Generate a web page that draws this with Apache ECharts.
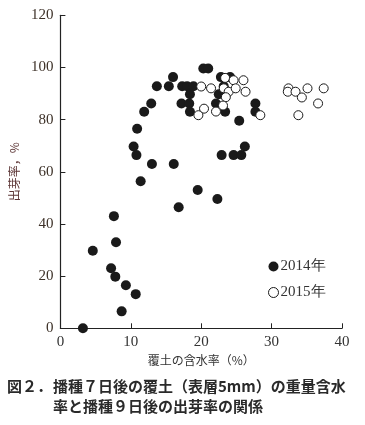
<!DOCTYPE html>
<html>
<head>
<meta charset="utf-8">
<script src="https://cdn.jsdelivr.net/npm/echarts@6/dist/echarts.min.js"></script>
<style>html,body{margin:0;padding:0;background:#fff}#c{width:365px;height:425px}</style>
</head>
<body>
<div id="c"></div>
<script>
const xTicks = [0, 10, 20, 30, 40];
const yTicks = [0, 20, 40, 60, 80, 100, 120];
const seriesNames = ['2014年', '2015年'];
const data2014 = [
  [3.2,0],[4.6,29.7],[7.6,43],[7.9,33],[7.2,23],[7.8,19.8],[9.3,16.5],[10.7,13.1],[8.7,6.5],
  [11.4,56.4],[13.0,63],[16.1,63],[16.8,46.4],[19.5,53],[22.3,49.6],
  [10.4,69.7],[10.8,66.4],[10.9,76.5],[11.9,83],[12.9,86.2],[13.7,92.8],[15.4,92.8],[16.0,96.3],
  [17.3,92.8],[18.0,92.8],[18.9,92.8],[18.4,89.7],[17.2,86.2],[18.3,86.2],[18.4,83],
  [20.3,99.6],[21.0,99.6],
  [22.8,96.3],[24.1,96.3],[23.2,92.8],[22.5,89.7],[22.1,86.2],[23.4,83],[25.4,79.6],
  [27.7,86.2],[27.7,83],[26.2,69.7],[22.9,66.4],[24.6,66.4],[25.7,66.4]
];
const data2015 = [
  [20.0,92.7],[21.4,92],[23.4,96],[24.6,95.1],[26.0,95.1],[23.2,92],[23.9,90.7],[24.9,92],
  [26.3,90.7],[23.5,88.6],[20.4,84.2],[19.6,81.7],[22.1,83.1],[23.1,85.4],[28.4,81.7],
  [32.4,92],[32.3,90.7],[33.4,90.7],[35.1,92],[34.3,88.5],[37.4,92],[36.6,86.2],[33.8,81.7]
];

const chart = echarts.init(document.getElementById('c'), null, {renderer: 'canvas'});
const serif = "Liberation Serif";
const cjk = "Noto Sans CJK JP";
chart.setOption({
  animation: false,
  backgroundColor: '#fff',
  grid: {left: 60, right: 23, top: 15.3, bottom: 96.7, containLabel: false},
  xAxis: {
    type: 'value', min: xTicks[0], max: xTicks[xTicks.length-1], interval: 10,
    name: '覆土の含水率（%）', nameLocation: 'middle', nameGap: 21,
    nameTextStyle: {fontFamily: cjk, fontSize: 12, color: '#333'},
    axisLine: {show: true, lineStyle: {color: '#222', width: 1.2}},
    axisTick: {show: true, inside: true, length: 5, lineStyle: {color: '#222'}},
    axisLabel: {fontFamily: serif, fontSize: 15, color: '#333', margin: 6},
    splitLine: {show: false}
  },
  yAxis: {
    type: 'value', min: yTicks[0], max: yTicks[yTicks.length-1], interval: 20,
    name: '出芽率，%', nameLocation: 'middle', nameGap: 40, nameRotate: 90,
    nameTextStyle: {fontFamily: cjk, fontSize: 12, color: '#5b3434'},
    axisLine: {show: true, lineStyle: {color: '#222', width: 1.2}},
    axisTick: {show: true, inside: true, length: 5, lineStyle: {color: '#222'}},
    axisLabel: {fontFamily: serif, fontSize: 15, color: '#3d3128', margin: 7},
    splitLine: {show: false}
  },
  legend: {
    orient: 'vertical', left: 263, top: 254, itemWidth: 10, itemHeight: 10, itemGap: 11,
    data: [
      {name: seriesNames[0]},
      {name: seriesNames[1], itemStyle: {color: '#fff', borderColor: '#1a1a1a', borderWidth: 1}}
    ],
    textStyle: {fontFamily: serif, fontSize: 15, color: '#333', padding: [0,0,0,-3]}
  },
  series: [
    {name: seriesNames[0], type: 'scatter', data: data2014, symbol: 'circle', symbolSize: 10,
     itemStyle: {color: '#1a1a1a', opacity: 1}},
    {name: seriesNames[1], type: 'scatter', data: data2015, symbol: 'circle', symbolSize: 9,
     itemStyle: {color: '#fff', borderColor: '#1a1a1a', borderWidth: 1, opacity: 1}}
  ],
  graphic: [
    {type: 'text', left: 7, top: 379, style: {text: '図２．', font: "bold 15px 'Noto Sans CJK JP'", fill: '#2a2a2a'}},
    {type: 'text', left: 53, top: 379, style: {text: '播種７日後の覆土（表層5mm）の重量含水', font: "bold 15px 'Noto Sans CJK JP'", fill: '#2a2a2a'}},
    {type: 'text', left: 53, top: 399, style: {text: '率と播種９日後の出芽率の関係', font: "bold 15px 'Noto Sans CJK JP'", fill: '#2a2a2a'}}
  ]
});
</script>
</body>
</html>
